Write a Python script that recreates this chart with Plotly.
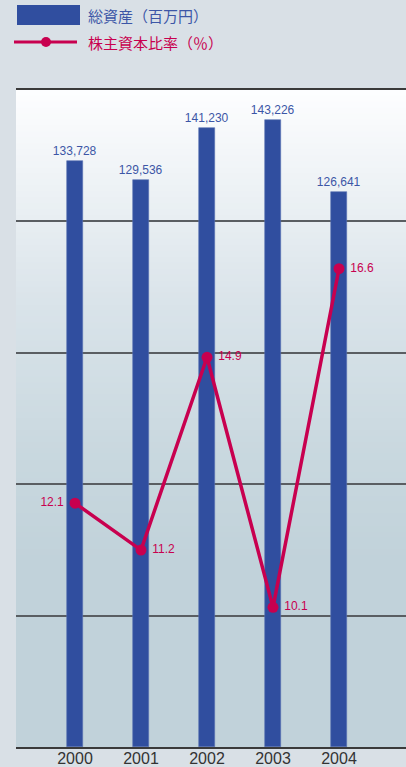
import plotly.graph_objects as go

years = ["2000", "2001", "2002", "2003", "2004"]
total_assets = [133728, 129536, 141230, 143226, 126641]
equity_ratio = [12.1, 11.2, 14.9, 10.1, 16.6]
asset_labels = ["133,728", "129,536", "141,230", "143,226", "126,641"]
ratio_labels = ["12.1", "11.2", "14.9", "10.1", "16.6"]
legend_assets = "総資産（百万円）"
legend_ratio = "株主資本比率（％）"

W, H = 406, 767
ML, MR, MT, MB = 16, 0, 90, 20
PH = H - MT - MB

BLUE = "#304e9f"
RED = "#c8004f"
LBLUE = "#3c56a6"

xs = list(range(len(years)))

fig = go.Figure()
fig.add_trace(go.Bar(
    x=xs, y=total_assets, width=0.242,
    marker=dict(color=BLUE, line=dict(color="#5a72b4", width=0.6)),
    text=asset_labels, textposition="outside", constraintext="none",
    outsidetextfont=dict(color=LBLUE, size=12, family="Liberation Sans, Arial"),
    cliponaxis=False, showlegend=False, hoverinfo="skip",
))
fig.add_trace(go.Scatter(
    x=xs, y=equity_ratio, yaxis="y2", mode="lines+markers+text",
    line=dict(color=RED, width=3.5),
    marker=dict(color=RED, size=11),
    text=[" " + t + " " for t in ratio_labels],
    textposition=["middle left", "middle right", "middle right", "middle right", "middle right"],
    textfont=dict(color=RED, size=12, family="Liberation Sans, Arial"),
    cliponaxis=False, showlegend=False, hoverinfo="skip",
))

# background gradient strips in the plot area
def lerp(c1, c2, t):
    return tuple(round(a + (b - a) * t) for a, b in zip(c1, c2))

stops = [(90, (253, 254, 255)), (300, (218, 228, 234)), (450, (201, 216, 223)),
         (560, (193, 210, 218)), (747, (193, 210, 218))]
shapes = []
N = 110
for i in range(N):
    y0p = 90 + PH * i / N
    y1p = 90 + PH * (i + 1) / N
    ym = (y0p + y1p) / 2
    for j in range(len(stops) - 1):
        if stops[j][0] <= ym <= stops[j + 1][0]:
            t = (ym - stops[j][0]) / (stops[j + 1][0] - stops[j][0])
            c = lerp(stops[j][1], stops[j + 1][1], t)
            break
    shapes.append(dict(type="rect", xref="paper", yref="paper", layer="below",
                       x0=0, x1=1, y0=(747 - y1p - 0.5) / PH, y1=(747 - y0p + 0.5) / PH,
                       fillcolor="rgb(%d,%d,%d)" % c, line=dict(width=0)))

def py(pix):
    return (747 - pix) / PH

def px(pix):
    return (pix - ML) / (W - ML - MR)

# legend
shapes.append(dict(type="rect", xref="paper", yref="paper", x0=px(17), x1=px(80),
                   y0=py(25), y1=py(5), fillcolor=BLUE, line=dict(width=0)))
shapes.append(dict(type="line", xref="paper", yref="paper", x0=px(14), x1=px(77),
                   y0=py(42), y1=py(42), line=dict(color=RED, width=3)))
shapes.append(dict(type="circle", xref="paper", yref="paper", x0=px(41), x1=px(51),
                   y0=py(47), y1=py(37), fillcolor=RED, line=dict(width=0)))

annotations = [
    dict(text=legend_assets, xref="paper", yref="paper", x=px(86), y=py(15),
         xanchor="left", yanchor="middle", showarrow=False,
         font=dict(color=LBLUE, size=15, family="Noto Sans CJK JP")),
    dict(text=legend_ratio, xref="paper", yref="paper", x=px(86), y=py(42.5),
         xanchor="left", yanchor="middle", showarrow=False,
         font=dict(color=RED, size=15, family="Noto Sans CJK JP")),
]

fig.update_layout(
    width=W, height=H,
    margin=dict(l=ML, r=MR, t=MT, b=MB, autoexpand=False),
    paper_bgcolor="#d9e0e6", plot_bgcolor="rgba(0,0,0,0)",
    shapes=shapes, annotations=annotations,
    xaxis=dict(range=[-0.894, 5.015], tickvals=xs, ticktext=years,
               showgrid=False, zeroline=False, showline=True, mirror=True,
               linecolor="#3a3a3a", linewidth=2, ticks="", automargin=False,
               ticklabelstandoff=-4,
               tickfont=dict(size=16, color="#333333", family="Liberation Sans, Arial")),
    yaxis=dict(range=[0, 150000], dtick=30000, showticklabels=False,
               showgrid=True, gridcolor="#5a5e62", gridwidth=1.6, automargin=False,
               zeroline=False, showline=False, ticks=""),
    yaxis2=dict(range=[7.42, 20.03], overlaying="y", side="right", automargin=False,
                showticklabels=False, showgrid=False, zeroline=False, showline=False),
    bargap=0,
)

fig.write_html("out.html")
